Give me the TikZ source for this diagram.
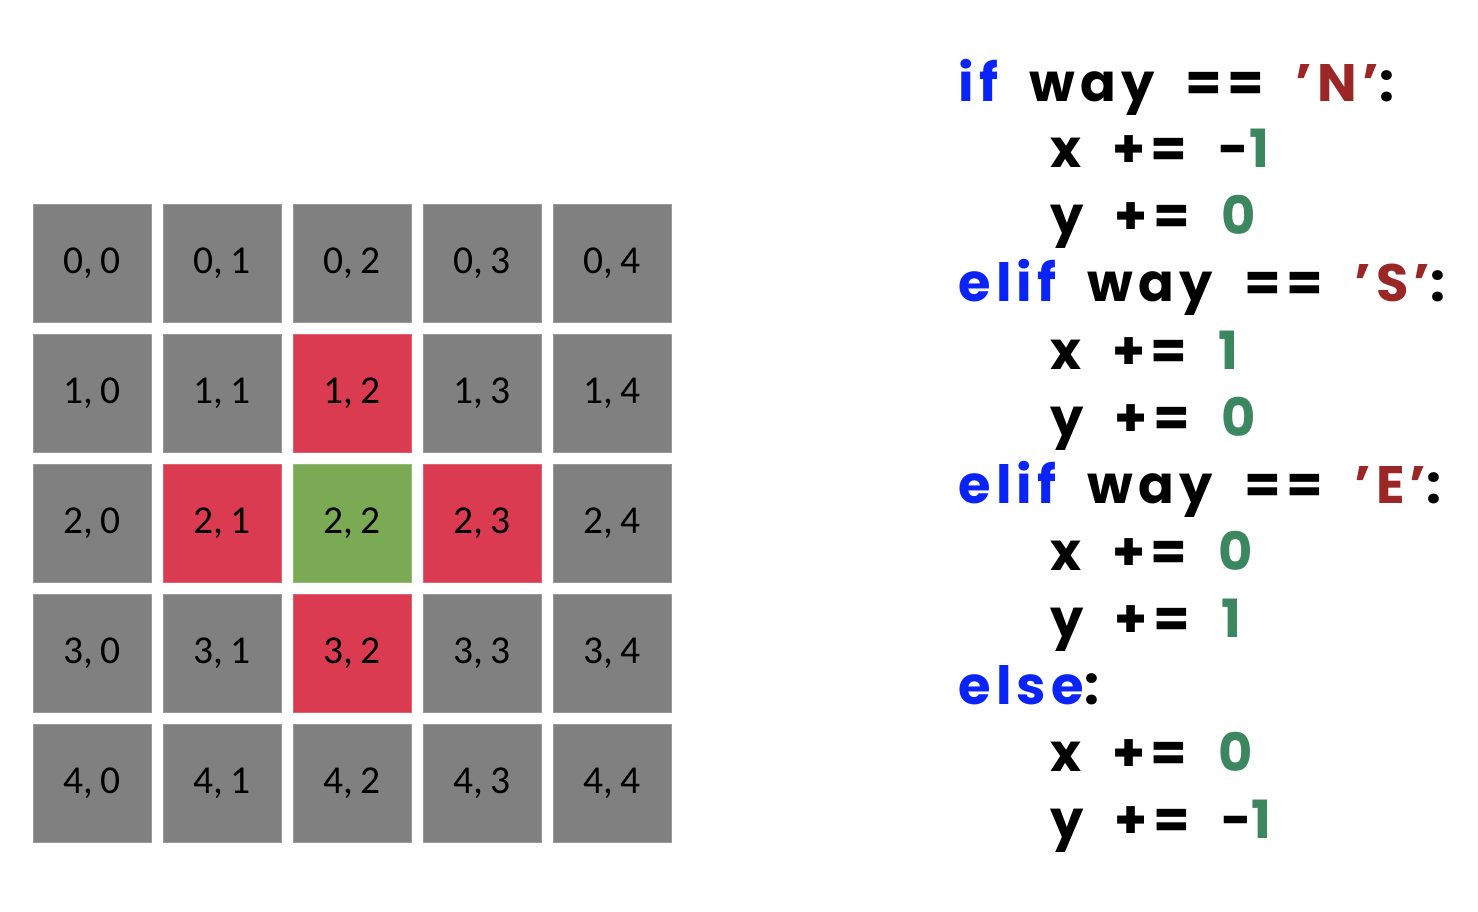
\documentclass[tikz,border=0pt]{standalone}
\usepackage{fontspec}
\setmainfont{Carlito}
\newfontfamily\codefont[LetterSpace=10, WordSpace=1.9]{Poppins}
\usepackage{xcolor}
\definecolor{cellgray}{HTML}{808080}
\definecolor{cellred}{HTML}{DB3B50}
\definecolor{cellgreen}{HTML}{7BAA55}
\definecolor{kwblue}{HTML}{0A24F8}
\definecolor{strred}{HTML}{9A2626}
\definecolor{numgreen}{HTML}{3C8660}
\usepackage{tikz}

\begin{document}
\begin{tikzpicture}[
  x=0.02cm, y=-0.02cm,
  cell/.style={fill=#1, draw=#1!80!white, line width=0.4pt, minimum size=2.36cm,
    inner sep=0pt, font=\fontsize{22.5}{26}\selectfont},
  code/.style={anchor=base west, inner sep=0pt, font=\codefont\bfseries\fontsize{30}{36}\selectfont},
]
  \useasboundingbox (0,0) rectangle (1478,912);

  % grid of positions
  \node[cell=cellgray]  (c00) at (92,263) {0,\,0};
  \node[cell=cellgray]  (c01) at (222,263) {0,\,1};
  \node[cell=cellgray]  (c02) at (352,263) {0,\,2};
  \node[cell=cellgray]  (c03) at (482,263) {0,\,3};
  \node[cell=cellgray]  (c04) at (612,263) {0,\,4};

  \node[cell=cellgray]  (c10) at (92,393) {1,\,0};
  \node[cell=cellgray]  (c11) at (222,393) {1,\,1};
  \node[cell=cellred]   (c12) at (352,393) {1,\,2};
  \node[cell=cellgray]  (c13) at (482,393) {1,\,3};
  \node[cell=cellgray]  (c14) at (612,393) {1,\,4};

  \node[cell=cellgray]  (c20) at (92,523) {2,\,0};
  \node[cell=cellred]   (c21) at (222,523) {2,\,1};
  \node[cell=cellgreen] (c22) at (352,523) {2,\,2};
  \node[cell=cellred]   (c23) at (482,523) {2,\,3};
  \node[cell=cellgray]  (c24) at (612,523) {2,\,4};

  \node[cell=cellgray]  (c30) at (92,653) {3,\,0};
  \node[cell=cellgray]  (c31) at (222,653) {3,\,1};
  \node[cell=cellred]   (c32) at (352,653) {3,\,2};
  \node[cell=cellgray]  (c33) at (482,653) {3,\,3};
  \node[cell=cellgray]  (c34) at (612,653) {3,\,4};

  \node[cell=cellgray]  (c40) at (92,783) {4,\,0};
  \node[cell=cellgray]  (c41) at (222,783) {4,\,1};
  \node[cell=cellgray]  (c42) at (352,783) {4,\,2};
  \node[cell=cellgray]  (c43) at (482,783) {4,\,3};
  \node[cell=cellgray]  (c44) at (612,783) {4,\,4};

  % code
  \node[code] (ifN)   at (958,102)  {\textcolor{kwblue}{if} way == \textcolor{strred}{’N’}:};
  \node[code] (xN)    at (1050,168) {x += -\textcolor{numgreen}{1}};
  \node[code] (yN)    at (1050,235) {y += \textcolor{numgreen}{0}};
  \node[code] (elifS) at (958,302)  {\textcolor{kwblue}{elif} way == \textcolor{strred}{’S’}:};
  \node[code] (xS)    at (1050,369) {x += \textcolor{numgreen}{1}};
  \node[code] (yS)    at (1050,436) {y += \textcolor{numgreen}{0}};
  \node[code] (elifE) at (958,503)  {\textcolor{kwblue}{elif} way == \textcolor{strred}{’E’}:};
  \node[code] (xE)    at (1050,570) {x += \textcolor{numgreen}{0}};
  \node[code] (yE)    at (1050,637) {y += \textcolor{numgreen}{1}};
  \node[code] (else)  at (958,704)  {\textcolor{kwblue}{else}:};
  \node[code] (xW)    at (1050,771) {x += \textcolor{numgreen}{0}};
  \node[code] (yW)    at (1050,838) {y += -\textcolor{numgreen}{1}};
\end{tikzpicture}
\end{document}
